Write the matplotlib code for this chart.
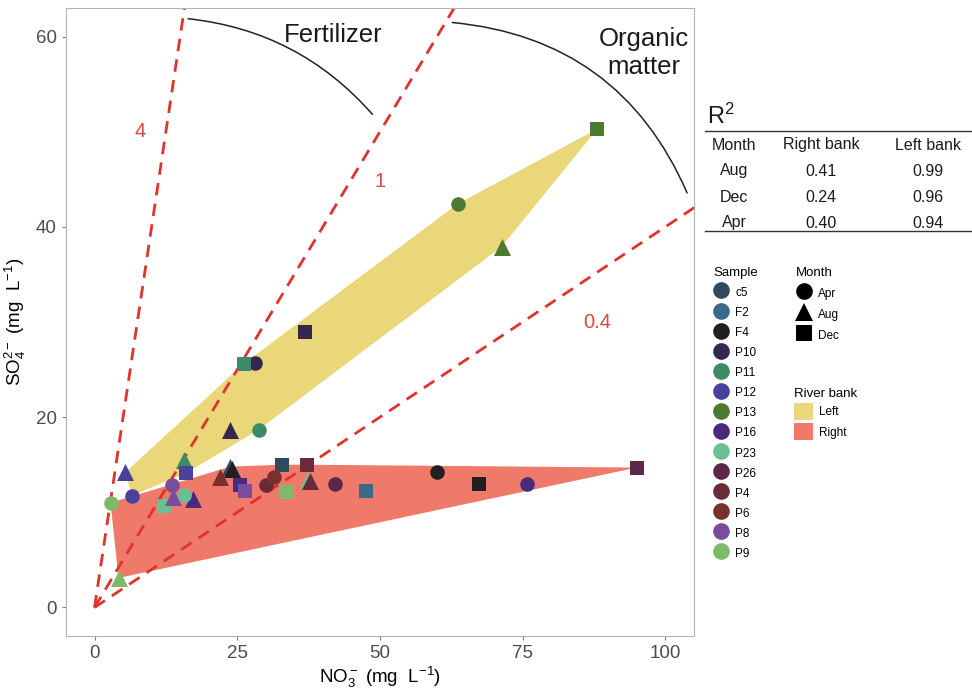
import numpy as np
import matplotlib.pyplot as plt
from matplotlib.lines import Line2D
from matplotlib.patches import Patch, FancyArrowPatch

plt.rcParams['font.family'] = ['Liberation Sans', 'DejaVu Sans']
plt.rcParams['mathtext.fontset'] = 'custom'
plt.rcParams['mathtext.rm'] = 'Liberation Sans'
plt.rcParams['mathtext.it'] = 'Liberation Sans:italic'
plt.rcParams['mathtext.bf'] = 'Liberation Sans:bold'

# samples, colours and bank
sample_names = ['c5', 'F2', 'F4', 'P10', 'P11', 'P12', 'P13', 'P16', 'P23', 'P26', 'P4', 'P6', 'P8', 'P9']
sample_colors = ['#2f4a5f', '#3a6a8a', '#231f20', '#352750', '#3f8a66', '#4a419a', '#4b7a30',
                 '#4b2a7c', '#6bbf94', '#5c2748', '#6a2a38', '#7a302f', '#7a4c9c', '#7dbb6a']
left_bank = ['P10', 'P11', 'P12', 'P13']

# measurements (mg/L)
pt_sample = ['c5', 'c5', 'F2', 'F4', 'F4', 'F4',
             'P10', 'P10', 'P10', 'P11', 'P11', 'P11', 'P12', 'P12', 'P12',
             'P13', 'P13', 'P13', 'P16', 'P16', 'P16', 'P23', 'P23', 'P23',
             'P26', 'P26', 'P4', 'P4', 'P4', 'P6', 'P6', 'P8', 'P8', 'P8',
             'P9', 'P9', 'P9']
pt_month = ['Aug', 'Dec', 'Dec', 'Apr', 'Aug', 'Dec',
            'Apr', 'Aug', 'Dec', 'Apr', 'Aug', 'Dec', 'Apr', 'Aug', 'Dec',
            'Apr', 'Aug', 'Dec', 'Apr', 'Aug', 'Dec', 'Apr', 'Aug', 'Dec',
            'Apr', 'Dec', 'Apr', 'Aug', 'Dec', 'Apr', 'Aug', 'Apr', 'Aug', 'Dec',
            'Apr', 'Aug', 'Dec']
no3 = [23.8, 32.8, 47.6, 60.0, 24.1, 67.3,
       28.1, 23.8, 36.9, 28.8, 15.6, 26.1, 6.5, 5.4, 16.0,
       63.6, 71.3, 88.1, 75.7, 17.2, 25.5, 15.7, 37.4, 12.1,
       42.1, 95.0, 30.0, 37.8, 37.2, 31.4, 22.0, 13.5, 13.8, 26.4,
       2.8, 4.2, 33.5]
so4 = [14.8, 15.0, 12.2, 14.2, 14.5, 13.0,
       25.7, 18.7, 28.9, 18.7, 15.5, 25.6, 11.75, 14.2, 14.1,
       42.4, 37.9, 50.3, 13.0, 11.4, 12.9, 11.8, 13.4, 10.7,
       13.0, 14.7, 12.9, 13.3, 15.0, 13.7, 13.7, 12.9, 11.6, 12.2,
       11.0, 3.1, 12.1]

months = ['Apr', 'Aug', 'Dec']
month_markers = {'Apr': 'o', 'Aug': '^', 'Dec': 's'}
month_sizes = {'Apr': 110, 'Aug': 150, 'Dec': 110}

bank_names = ['Left', 'Right']
bank_colors = ['#ead77a', '#f07a6a']

# SO4/NO3 ratio lines
ratios = [4, 1, 0.4]
ratio_labels = ['4', '1', '0.4']
ratio_label_pos = [(8.0, 50.0), (50.0, 44.8), (88.0, 29.9)]

# R2 table
r2_months = ['Aug', 'Dec', 'Apr']
r2_right = ['0.41', '0.24', '0.40']
r2_left = ['0.99', '0.96', '0.94']


def convex_hull(xs, ys):
    pts = sorted(set(zip(xs, ys)))

    def cross(o, a, b):
        return (a[0] - o[0]) * (b[1] - o[1]) - (a[1] - o[1]) * (b[0] - o[0])

    lower, upper = [], []
    for p in pts:
        while len(lower) >= 2 and cross(lower[-2], lower[-1], p) <= 0:
            lower.pop()
        lower.append(p)
    for p in reversed(pts):
        while len(upper) >= 2 and cross(upper[-2], upper[-1], p) <= 0:
            upper.pop()
        upper.append(p)
    return np.array(lower[:-1] + upper[:-1])


no3 = np.array(no3)
so4 = np.array(so4)
is_left = np.array([s in left_bank for s in pt_sample])
color_of = dict(zip(sample_names, sample_colors))

fig = plt.figure(figsize=(9.72, 6.88), dpi=100)
ax = fig.add_axes([0.0679, 0.0756, 0.646, 0.9128])

# bank polygons
for mask, col in [(is_left, bank_colors[0]), (~is_left, bank_colors[1])]:
    h = convex_hull(no3[mask], so4[mask])
    ax.fill(h[:, 0], h[:, 1], color=col, lw=0, zorder=1)

# ratio lines
xx = np.array([0, 120])
for r in ratios:
    ax.plot(xx, r * xx, color='#e0332b', lw=2, dashes=(4.5, 3), zorder=2)
for lab, (tx, ty) in zip(ratio_labels, ratio_label_pos):
    ax.text(tx, ty, lab, color='#e0463a', fontsize=14.5, ha='center', va='center')

# source arcs
for p0, p1, rad in [((15.9, 61.9), (49.0, 51.6), -0.2), ((62.2, 61.5), (104.0, 43.3), -0.3)]:
    ax.add_patch(FancyArrowPatch(p0, p1, arrowstyle='-', connectionstyle=f'arc3,rad={rad}',
                                 color='#222222', lw=1.1, zorder=2))
ax.text(41.8, 60.2, 'Fertilizer', fontsize=18.5, ha='center', va='center', color='#1a1a1a')
ax.text(96.3, 58.3, 'Organic\nmatter', fontsize=18.5, ha='center', va='center',
        color='#1a1a1a', linespacing=1.2)

# samples
for s, m, x, y in zip(pt_sample, pt_month, no3, so4):
    ax.scatter(x, y, s=month_sizes[m], marker=month_markers[m], color=color_of[s],
               lw=0, zorder=3)

ax.set_xlim(-5, 105)
ax.set_ylim(-3, 63)
ax.set_xticks([0, 25, 50, 75, 100])
ax.set_yticks([0, 20, 40, 60])
ax.tick_params(labelsize=13.5, labelcolor='#4d4d4d', color='#7f7f7f', length=3, width=0.8)
for sp in ax.spines.values():
    sp.set_color('#b3b3b3')
    sp.set_linewidth(0.8)
ax.set_xlabel('NO$_3^-$ (mg  L$^{-1}$)', fontsize=13.5, labelpad=2)
ax.set_ylabel('SO$_4^{2-}$ (mg  L$^{-1}$)', fontsize=13.5, labelpad=6)

# legends
h_sample = [Line2D([], [], marker='o', ls='', ms=12, color=c, mew=0) for c in sample_colors]
fig.legend(h_sample, sample_names, title='Sample', loc='upper left',
           bbox_to_anchor=(0.723, 0.627), frameon=False, fontsize=8.5,
           title_fontsize=9.5, handleheight=1.5, labelspacing=0.48,
           handlelength=1.3, handletextpad=0.55, alignment='left')
h_month = [Line2D([], [], marker=month_markers[m], ls='', ms=13 if m == 'Aug' else 12,
                  color='black', mew=0) for m in months]
fig.legend(h_month, months, title='Month', loc='upper left',
           bbox_to_anchor=(0.808, 0.627), frameon=False, fontsize=8.5,
           title_fontsize=9.5, handleheight=1.5, labelspacing=0.56,
           handlelength=1.3, handletextpad=0.55, alignment='left')
h_bank = [Patch(facecolor=c, edgecolor='none') for c in bank_colors]
fig.legend(h_bank, bank_names, title='River bank', loc='upper left',
           bbox_to_anchor=(0.806, 0.452), frameon=False, fontsize=8.5,
           title_fontsize=9.5, handleheight=1.9, labelspacing=0.25,
           handlelength=1.6, handletextpad=0.55, alignment='left')

# R2 table
tab = fig.add_axes([0, 0, 1, 1])
tab.set_xlim(0, 972)
tab.set_ylim(688, 0)
tab.axis('off')
tab.text(707, 116, 'R$^2$', fontsize=17, ha='left', va='center', color='#1a1a1a')
tab.plot([705, 972], [130.5, 130.5], color='#333333', lw=1)
tab.plot([705, 972], [231, 231], color='#333333', lw=1)
col_x = [734, 821, 928]
for x, t in zip(col_x, ['Month', 'Right bank', 'Left bank']):
    tab.text(x, 145, t, fontsize=11.5, ha='center', va='center', color='#1a1a1a')
for i, (m, r, l) in enumerate(zip(r2_months, r2_right, r2_left)):
    y = 171 + 26 * i
    for x, t in zip(col_x, [m, r, l]):
        tab.text(x, y, t, fontsize=11.5, ha='center', va='center', color='#1a1a1a')

fig.savefig('out.png', dpi=100)
